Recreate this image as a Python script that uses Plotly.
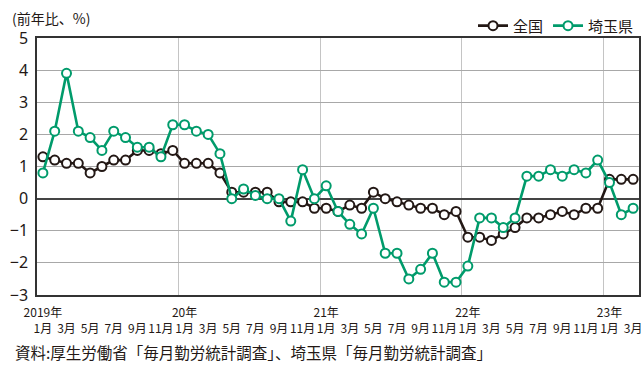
import plotly.graph_objects as go

# Monthly year-on-year change (%) — Jan 2019 to Mar 2023
months = [f"{y}-{m:02d}" for y in range(2019, 2024) for m in range(1, 13)][:51]

zenkoku = [1.3, 1.2, 1.1, 1.1, 0.8, 1.0, 1.2, 1.2, 1.5, 1.5, 1.4, 1.5,
           1.1, 1.1, 1.1, 0.8, 0.2, 0.2, 0.2, 0.2, -0.1, -0.1, -0.1, -0.3,
           -0.3, -0.4, -0.2, -0.3, 0.2, 0.0, -0.1, -0.2, -0.3, -0.3, -0.5, -0.4,
           -1.2, -1.2, -1.3, -1.1, -0.9, -0.6, -0.6, -0.5, -0.4, -0.5, -0.3, -0.3,
           0.6, 0.6, 0.6]

saitama = [0.8, 2.1, 3.9, 2.1, 1.9, 1.5, 2.1, 1.9, 1.6, 1.6, 1.3, 2.3,
           2.3, 2.1, 2.0, 1.4, 0.0, 0.3, 0.1, 0.0, 0.0, -0.7, 0.9, 0.0,
           0.4, -0.4, -0.8, -1.1, -0.3, -1.7, -1.7, -2.5, -2.2, -1.7, -2.6, -2.6,
           -2.1, -0.6, -0.6, -0.9, -0.6, 0.7, 0.7, 0.9, 0.7, 0.9, 0.8, 1.2,
           0.5, -0.5, -0.3]

year_labels = {0: "2019年", 12: "20年", 24: "21年", 36: "22年", 48: "23年"}
month_names = ["1月", "3月", "5月", "7月", "9月", "11月"]

x = list(range(len(months)))
tickvals = x[::2]
ticktext = []
for i in tickvals:
    top = year_labels.get(i, "")
    ticktext.append(f"{top}<br>{month_names[(i % 12) // 2]}")

# year boundaries for the vertical grid
year_bounds = [i - 0.5 for i in year_labels if i > 0]

BLACK = "#231815"
GREEN = "#009b6b"
CJK = "Noto Sans CJK JP"

fig = go.Figure()
for name, vals, col in [("全国", zenkoku, BLACK), ("埼玉県", saitama, GREEN)]:
    fig.add_trace(go.Scatter(
        x=x, y=vals, name=name, mode="lines+markers",
        line=dict(color=col, width=2.6),
        marker=dict(symbol="circle", size=9, color="white",
                    line=dict(color=col, width=2)),
    ))

fig.update_layout(
    width=643, height=365,
    margin=dict(l=37, r=2, t=38, b=70),
    paper_bgcolor="white", plot_bgcolor="white",
    font=dict(family=CJK, color="#231815"),
    showlegend=True,
    legend=dict(orientation="h", x=1.0, xanchor="right", y=1.047, yanchor="middle",
                font=dict(size=15, family=CJK), bgcolor="rgba(0,0,0,0)",
                itemwidth=30, tracegroupgap=0),
    xaxis=dict(
        range=[-0.5, len(months) - 0.5],
        tickmode="array", tickvals=tickvals, ticktext=ticktext, tickangle=0,
        showgrid=False, zeroline=False,
        showline=True, linecolor="#333333", linewidth=1.5, mirror=True,
        ticks="", tickfont=dict(size=12, family="Liberation Sans Narrow, " + CJK),
        ticklabelstandoff=6,
        minor=dict(tickmode="array", tickvals=year_bounds, showgrid=True,
                   gridcolor="#c4c4c4", gridwidth=1.2, ticks=""),
    ),
    yaxis=dict(
        range=[-3, 5], tickmode="linear", tick0=-3, dtick=1,
        showgrid=True, gridcolor="#a8a8a8", gridwidth=1,
        zeroline=True, zerolinecolor="#444444", zerolinewidth=1.5,
        showline=True, linecolor="#333333", linewidth=1.5, mirror=True,
        ticks="", tickfont=dict(size=16, family="Noto Sans"),
        ticklabelstandoff=4,
    ),
    annotations=[
        dict(text="(前年比、%)", xref="paper", yref="paper", x=-0.045, y=1.078,
             xanchor="left", yanchor="middle", showarrow=False,
             font=dict(size=14, family=CJK)),
        dict(text="資料:厚生労働省「毎月勤労統計調査」、埼玉県「毎月勤労統計調査」",
             xref="paper", yref="paper", x=-0.04, y=-0.222,
             xanchor="left", yanchor="middle", showarrow=False,
             font=dict(size=15.5, family=CJK)),
    ],
)

fig.write_html("out.html")
